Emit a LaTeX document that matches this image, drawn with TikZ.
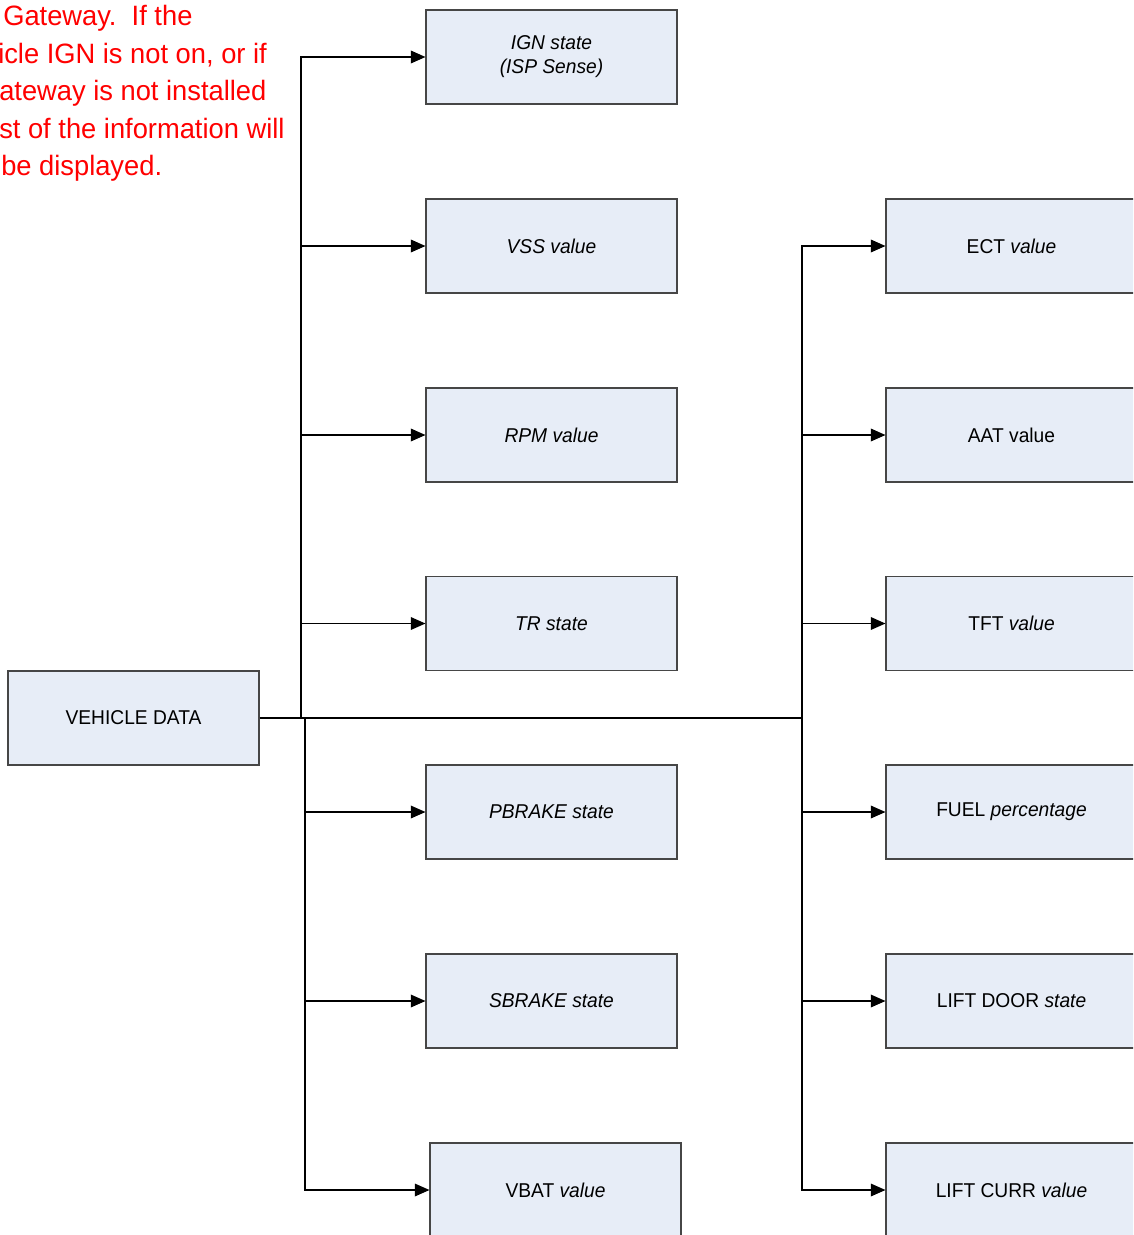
\documentclass[tikz,border=0pt]{standalone}
\usepackage{fontspec}
\setmainfont{Liberation Sans}
\newfontfamily\notefont[FakeStretch=0.975]{Liberation Sans}
\newfontfamily\boxfont[FakeStretch=0.96]{Liberation Sans}
\usetikzlibrary{arrows.meta}
\definecolor{boxfill}{RGB}{231,237,247}
\definecolor{boxline}{RGB}{70,70,70}
\tikzset{
  databox/.style={draw=boxline, fill=boxfill, line width=0.8pt, inner sep=0pt,
    minimum width=188.25pt, minimum height=70.5pt, align=center,
    font=\boxfont\fontsize{15}{18}\selectfont},
  conn/.style={draw=black, line width=1pt},
  arr/.style={conn, -{Triangle[length=11pt,width=9.5pt]}},
  note/.style={anchor=base west, inner sep=0pt, text=red, font=\notefont\fontsize{21}{28.5}\selectfont}
}
\begin{document}
\begin{tikzpicture}[x=0.75pt,y=-0.75pt]
\useasboundingbox (0,0) rectangle (1133,1235);
\clip (0,0) rectangle (1133,1235);
% note text (clipped at left in the original)
\node[note] (n1) at (3,25) {Gateway.\ \ If the};
\node[note] (n2) at (-2,63) {icle IGN is not on, or if};
\node[note] (n3) at (-1,100) {ateway is not installed};
\node[note] (n4) at (-1,138) {st of the information will};
\node[note] (n5) at (1,175) {be displayed.};
% main box
\node[databox] (vd) at (133.5,718) {VEHICLE DATA};
% left column
\node[databox] (ign) at (551.5,57) {\textit{IGN state}\\\textit{(ISP Sense)}};
\node[databox] (vss) at (551.5,246) {\textit{VSS value}};
\node[databox] (rpm) at (551.5,435) {\textit{RPM value}};
\node[databox] (tr) at (551.5,623.5) {\textit{TR state}};
\node[databox] (pb) at (551.5,812) {\textit{PBRAKE state}};
\node[databox] (sb) at (551.5,1001) {\textit{SBRAKE state}};
\node[databox] (vbat) at (555.5,1190) {VBAT \textit{value}};
% right column
\node[databox] (ect) at (1011.5,246) {ECT \textit{value}};
\node[databox] (aat) at (1011.5,435) {AAT value};
\node[databox] (tft) at (1011.5,623.5) {TFT \textit{value}};
\node[databox] (fuel) at (1011.5,812) {FUEL \textit{percentage}};
\node[databox] (door) at (1011.5,1001) {LIFT DOOR \textit{state}};
\node[databox] (curr) at (1011.5,1190) {LIFT CURR \textit{value}};
% junctions
\coordinate (jU) at (301,718);
\coordinate (jL) at (305,718);
\coordinate (jR) at (802,718);
% connectors
\draw[conn] (vd.east) -- (jR);
\foreach \t in {ign,vss,rpm,tr} \draw[arr] (jU) |- (\t.west);
\foreach \t in {pb,sb,vbat} \draw[arr] (jL) |- (\t.west);
\foreach \t in {ect,aat,tft,fuel,door,curr} \draw[arr] (jR) |- (\t.west);
\end{tikzpicture}
\end{document}
